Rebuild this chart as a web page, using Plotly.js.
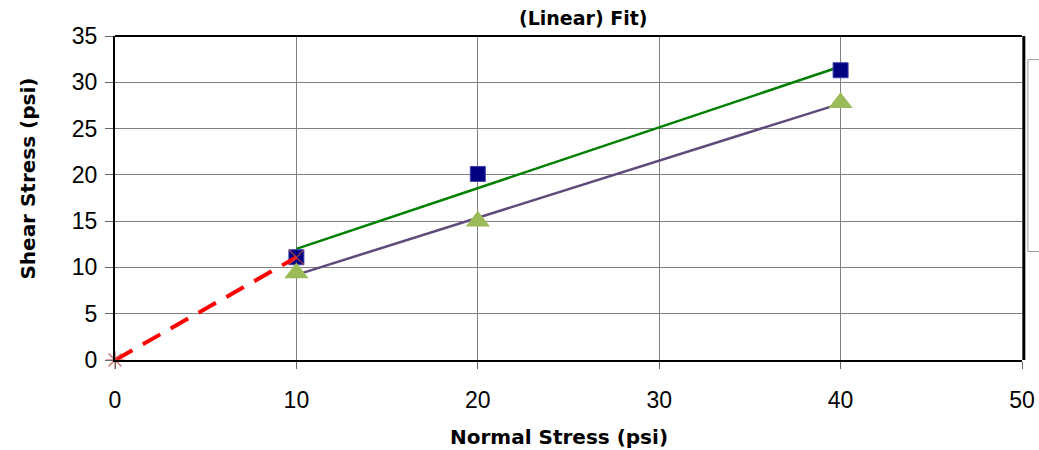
<!DOCTYPE html>
<html>
<head>
<meta charset="utf-8">
<script src="https://cdn.plot.ly/plotly-3.0.1.min.js"></script>
<style>html,body{margin:0;padding:0;background:#fff;}#chart{width:1039px;height:450px;}</style>
</head>
<body>
<div id="chart"></div>
<script>
// Data
const normalStress = [10, 20, 40];
const shearA = [11.1, 20.1, 31.3];      // squares
const shearB = [9.4, 15.0, 27.8];       // triangles
const fitX = [10, 40];
const fitA = [12.0, 31.7];              // green trend line
const fitB = [9.2, 27.7];               // purple trend line
const envX = [0, 10];
const envY = [0, 11.1];                 // red dashed line
const xTicks = [0, 10, 20, 30, 40, 50];
const yTicks = [0, 5, 10, 15, 20, 25, 30, 35];

const traces = [
  {x: fitX, y: fitA, mode: 'lines', line: {color: '#008000', width: 2.5}, showlegend: false, hoverinfo: 'skip'},
  {x: fitX, y: fitB, mode: 'lines', line: {color: '#604A7B', width: 2.5}, showlegend: false, hoverinfo: 'skip'},
  {x: normalStress, y: shearA, mode: 'markers', marker: {symbol: 'square', size: 15, color: '#000080', line: {color: '#4040b0', width: 1}}, showlegend: false},
  {x: normalStress, y: shearB, mode: 'markers', marker: {symbol: 'triangle-up', size: 21, color: '#9BBB59', line: {width: 0}}, showlegend: false},
  {x: envX, y: envY, mode: 'lines', line: {color: '#FF0000', width: 4, dash: '20px,12px'}, showlegend: false},
  {x: envX, y: envY, mode: 'markers', cliponaxis: false, marker: {symbol: ['asterisk-open', 'x-thin-open'], size: [15, 15], color: '#C0504D', line: {color: '#C0504D', width: 1.5}}, showlegend: false}
];

const tickFont = {family: 'Liberation Sans, Arial, sans-serif', size: 23, color: '#000'};
const labFont = {family: 'DejaVu Sans, sans-serif', size: 20, color: '#000'};

const layout = {
  width: 1039, height: 450,
  margin: {l: 115, r: 17, t: 36, b: 90},
  paper_bgcolor: '#fff', plot_bgcolor: '#fff',
  xaxis: {
    range: [0, 50], tickvals: xTicks, ticktext: xTicks.map(String),
    showgrid: true, gridcolor: '#808080', gridwidth: 1,
    showline: true, linecolor: '#000', linewidth: 2, mirror: false,
    ticks: 'outside', ticklen: 7, tickcolor: '#666', tickwidth: 1,
    tickfont: tickFont, zeroline: false, ticklabelstandoff: 11
  },
  yaxis: {
    range: [0, 35], tickvals: yTicks, ticktext: yTicks.map(String),
    showgrid: true, gridcolor: '#808080', gridwidth: 1,
    showline: true, linecolor: '#000', linewidth: 2, mirror: false,
    ticks: 'outside', ticklen: 8, tickcolor: '#666', tickwidth: 1,
    tickfont: tickFont, zeroline: false, ticklabelstandoff: 3
  },
  annotations: [
    {text: '<b>(Linear) Fit)</b>', xref: 'paper', yref: 'paper', x: 0.516, y: 1.055, xanchor: 'center', yanchor: 'middle', showarrow: false, font: {family: 'DejaVu Sans, sans-serif', size: 19, color: '#000'}},
    {text: '<b>Normal Stress (psi)</b>', xref: 'paper', yref: 'paper', x: 0.489, y: -0.238, xanchor: 'center', yanchor: 'middle', showarrow: false, font: labFont},
    {text: '<b>Shear Stress (psi)</b>', xref: 'paper', yref: 'paper', x: -0.0959, y: 0.56, xanchor: 'center', yanchor: 'middle', textangle: -90, showarrow: false, font: labFont}
  ],
  shapes: [
    {type: 'line', xref: 'paper', yref: 'paper', x0: 0, x1: 1, y0: 1, y1: 1, line: {color: '#000', width: 2}},
    {type: 'line', xref: 'paper', yref: 'paper', x0: 1.002, x1: 1.002, y0: 0, y1: 1, line: {color: '#000', width: 3}},
    {type: 'rect', xref: 'paper', yref: 'paper', x0: 1.0065, x1: 1.03, y0: 0.335, y1: 0.927, line: {color: '#999', width: 1}, fillcolor: 'rgba(0,0,0,0)'}
  ],
  showlegend: false
};

Plotly.newPlot('chart', traces, layout, {displayModeBar: false, staticPlot: true});
</script>
</body>
</html>
